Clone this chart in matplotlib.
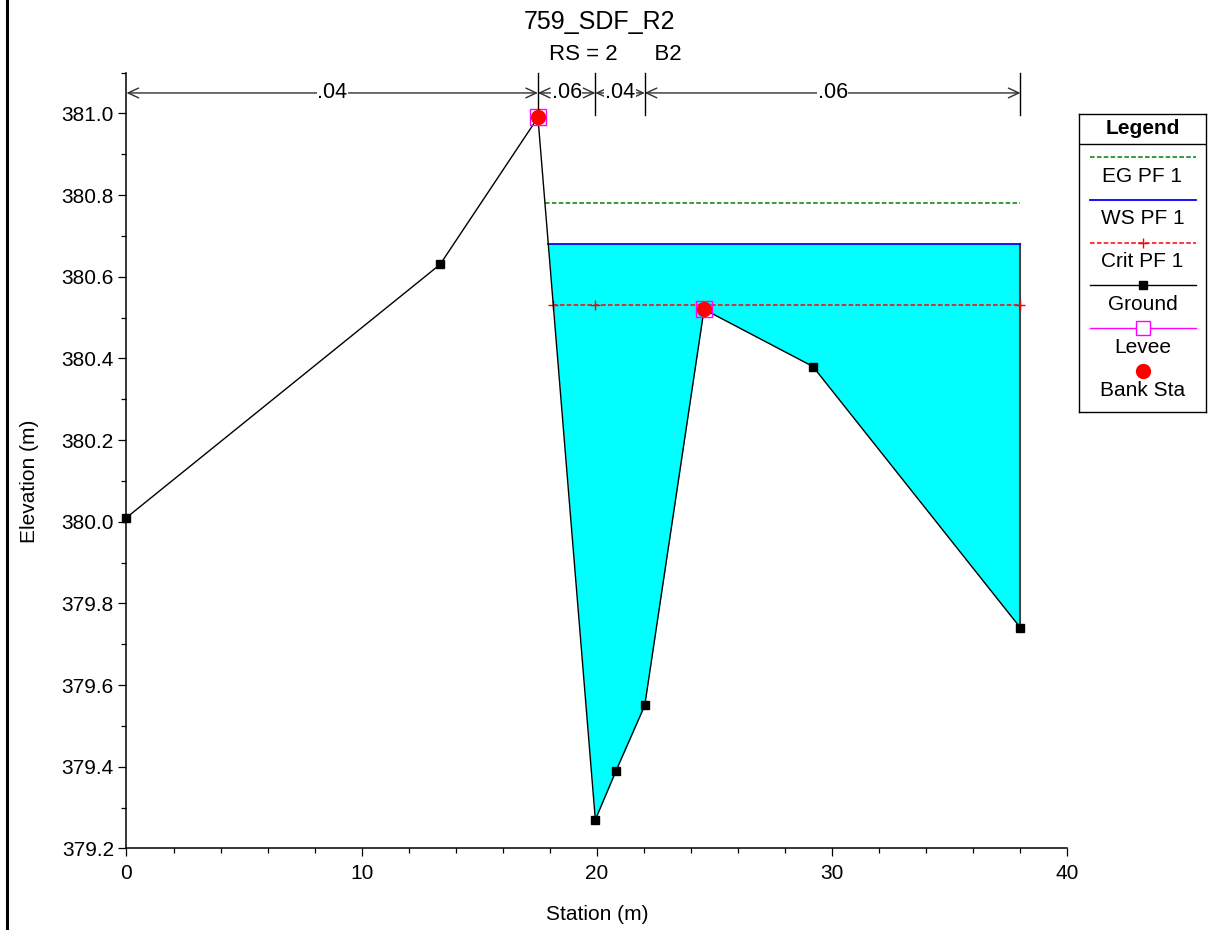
import numpy as np
import matplotlib
matplotlib.use("Agg")
import matplotlib.pyplot as plt
from matplotlib.ticker import MultipleLocator

plt.rcParams['font.family'] = ['Liberation Sans', 'DejaVu Sans']

# 地面线（桩号 / 高程）
ground_sta = [0.0, 13.33, 17.49, 19.93, 20.81, 22.03, 24.55, 29.18, 38.0]
ground_elev = [380.01, 380.63, 380.99, 379.27, 379.39, 379.55, 380.52, 380.38, 379.74]

# 岸点
bank_sta = [17.49, 24.55]
bank_elev = [380.99, 380.52]

# 水面
eg_elev = 380.78
ws_elev = 380.68
crit_elev = 380.53

# 糙率分段
n_sta = [0.0, 17.49, 19.93, 22.03, 38.0]
n_vals = [".04", ".06", ".04", ".06"]

title = "759_SDF_R2"
subtitle = "RS = 2      B2"


# 在左岸下降段找某高程与地面的交点
def left_cross(level):
    i = int(np.argmin(ground_elev))
    while ground_elev[i - 1] < level:
        i -= 1
    x0, x1 = ground_sta[i - 1], ground_sta[i]
    y0, y1 = ground_elev[i - 1], ground_elev[i]
    return x0 + (y0 - level) / (y0 - y1) * (x1 - x0)


fig = plt.figure(figsize=(12.15, 9.3), dpi=100)
ax = fig.add_axes([0.1041, 0.0878, 0.7745, 0.8342])

x_end = ground_sta[-1]

# 水体填充
xl = left_cross(ws_elev)
fx = [xl] + [s for s in ground_sta if s > xl]
fy = np.interp(fx, ground_sta, ground_elev)
ax.fill_between(fx, fy, ws_elev, color="#00ffff", lw=0, zorder=1)
ax.plot([x_end, x_end], [ground_elev[-1], ws_elev], color="#404040", lw=1.5, zorder=2)

# EG / WS / Crit
ax.plot([left_cross(eg_elev), x_end], [eg_elev, eg_elev], color="#008000",
        lw=1.1, ls=(0, (3, 1.5)), zorder=3)
ax.plot([xl, x_end], [ws_elev, ws_elev], color="#0000ff", lw=1.3, zorder=3)
crit_x = [left_cross(crit_elev), ground_sta[int(np.argmin(ground_elev))], x_end]
ax.plot(crit_x, [crit_elev] * 3, color="#ff0000", lw=1.1, ls=(0, (3, 1.5)),
        marker="+", ms=7, mew=1, zorder=3)

# 地面线
ax.plot(ground_sta, ground_elev, color="black", lw=1, marker="s", ms=6, zorder=4,
        clip_on=False)

# 堤 / 岸点
ax.plot(bank_sta, bank_elev, ls="none", marker="s", ms=11, mfc="none",
        mec="magenta", mew=1, zorder=5)
ax.plot(bank_sta, bank_elev, ls="none", marker="o", ms=10, color="red", zorder=6)

ax.set_xlim(0, 40)
ax.set_ylim(379.2, 381.1)

# 糙率标注
y_arrow = 381.05
for s in n_sta[1:]:
    ax.plot([s, s], [381.1, 380.997], color="black", lw=1, zorder=5, clip_on=False)
for i, v in enumerate(n_vals):
    a, b = n_sta[i], n_sta[i + 1]
    ax.annotate("", xy=(b, y_arrow), xytext=(a, y_arrow),
                arrowprops=dict(arrowstyle="<->,head_length=0.75,head_width=0.35",
                                color="#303030", lw=1, shrinkA=0, shrinkB=0,
                                mutation_scale=10))
    ax.text((a + b) / 2, y_arrow, v, ha="center", va="center", fontsize=15.5,
            bbox=dict(facecolor="white", edgecolor="none", pad=0.5), zorder=6)

for side in ["top", "right"]:
    ax.spines[side].set_visible(False)
for side in ["left", "bottom"]:
    ax.spines[side].set_linewidth(1.1)

ax.xaxis.set_major_locator(MultipleLocator(10))
ax.xaxis.set_minor_locator(MultipleLocator(2))
ax.yaxis.set_major_locator(MultipleLocator(0.2))
ax.yaxis.set_minor_locator(MultipleLocator(0.1))
ax.yaxis.set_major_formatter(matplotlib.ticker.FormatStrFormatter("%.1f"))
ax.tick_params(which="major", direction="out", length=6, width=0.9, labelsize=15, pad=3)
ax.tick_params(which="minor", direction="out", length=3.6, width=0.9)
ax.tick_params(axis="x", which="major", pad=5)

ax.set_xlabel("Station (m)", fontsize=15)
ax.set_ylabel("Elevation (m)", fontsize=15)
ax.xaxis.set_label_coords(0.5, -0.0847)
ax.yaxis.set_label_coords(-0.1026, 0.473)
ax.xaxis.label.set_va("center")
ax.yaxis.label.set_va("center")

fig.text(0.4934, 0.976, title, ha="center", va="center", fontsize=18)
fig.text(0.4519, 0.9409, subtitle, ha="left", va="center", fontsize=16)

# 左侧边框线
fig.add_artist(plt.Line2D([6.5 / 1215, 6.5 / 1215], [0, 1], color="black", lw=2.2,
                          transform=fig.transFigure))

# 图例（手工绘制，图标在文字上方）
lg = fig.add_axes([1079 / 1215, 1 - 412 / 930, 127 / 1215, 298 / 930])
lg.set_xlim(0, 127)
lg.set_ylim(298, 0)
lg.set_xticks([])
lg.set_yticks([])
for sp in lg.spines.values():
    sp.set_linewidth(1)
lg.plot([0, 127], [30, 30], color="black", lw=1)
lg.text(63.5, 15, "Legend", ha="center", va="center", fontsize=15, fontweight="bold")

lx = [11, 117]
cx = 63.5
entries = [
    ("EG PF 1", dict(color="#008000", lw=1.1, ls=(0, (3, 1.5))), None),
    ("WS PF 1", dict(color="#0000ff", lw=1.3), None),
    ("Crit PF 1", dict(color="#ff0000", lw=1.1, ls=(0, (3, 1.5))),
     dict(marker="+", ms=7, mew=1, color="#ff0000")),
    ("Ground", dict(color="black", lw=1), dict(marker="s", ms=6, color="black")),
    ("Levee", dict(color="magenta", lw=1),
     dict(marker="s", ms=10, mfc="white", mec="magenta", mew=1)),
    ("Bank Sta", None, dict(marker="o", ms=10, color="red")),
]
for k, (label, line_kw, mark_kw) in enumerate(entries):
    yl = 43 + k * 42.8
    if line_kw is not None:
        lg.plot(lx, [yl, yl], **line_kw)
    if mark_kw is not None:
        lg.plot([cx], [yl], ls="none", **mark_kw)
    lg.text(cx, yl + 19, label, ha="center", va="center", fontsize=15)

fig.savefig("out.png", dpi=100)
